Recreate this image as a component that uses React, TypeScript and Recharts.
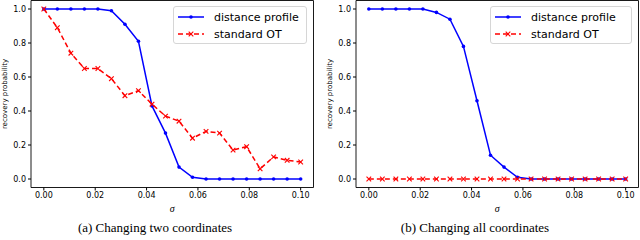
import React from 'react';
import { LineChart, Line, XAxis, YAxis, ReferenceArea } from 'recharts';

// sigma grid (20 points between 0 and 0.1)
const sigma = [
  0, 0.00526, 0.01053, 0.01579, 0.02105, 0.02632, 0.03158, 0.03684, 0.04211, 0.04737,
  0.05263, 0.05789, 0.06316, 0.06842, 0.07368, 0.07895, 0.08421, 0.08947, 0.09474, 0.1,
];

// (a) changing two coordinates
const distTwo = [1, 1, 1, 1, 1, 0.99, 0.91, 0.81, 0.43, 0.27, 0.07, 0.01, 0, 0, 0, 0, 0, 0, 0, 0];
const otTwo = [1, 0.89, 0.74, 0.65, 0.65, 0.59, 0.49, 0.52, 0.44, 0.37, 0.34, 0.24, 0.28, 0.27, 0.17, 0.19, 0.06, 0.13, 0.11, 0.1];

// (b) changing all coordinates
const distAll = [1, 1, 1, 1, 1, 0.98, 0.94, 0.78, 0.46, 0.14, 0.07, 0.01, 0, 0, 0, 0, 0, 0, 0, 0];
const otAll = [0, 0, 0, 0, 0, 0, 0, 0, 0, 0, 0, 0, 0, 0, 0, 0, 0, 0, 0, 0];

const xTicks = [0, 0.02, 0.04, 0.06, 0.08, 0.1];
const yTicks = [0, 0.2, 0.4, 0.6, 0.8, 1.0];
const seriesNames = ['distance profile', 'standard OT'];

const FONT = 'DejaVu Sans, sans-serif';
const tickStyle = { fontSize: 8, fill: '#000', fontFamily: FONT };

const XMark = (props: any) => {
  const { cx, cy } = props;
  if (cx == null || cy == null) return null;
  const r = 2.3;
  return (
    <g>
      <line x1={cx - r} y1={cy - r} x2={cx + r} y2={cy + r} stroke="#ff0000" strokeWidth={1.1} />
      <line x1={cx - r} y1={cy + r} x2={cx + r} y2={cy - r} stroke="#ff0000" strokeWidth={1.1} />
    </g>
  );
};

const LegendBox = ({ left, width }: { left: number; width: number }) => (
  <div
    style={{
      position: 'absolute', left, top: 6, width, height: 38, boxSizing: 'border-box',
      border: '1px solid #d6d6d6', borderRadius: 3, background: 'rgba(255,255,255,0.85)',
      fontFamily: FONT, fontSize: 11, color: '#000',
    }}
  >
    {seriesNames.map((name, i) => (
      <div key={name} style={{ position: 'absolute', left: 3, top: 3 + i * 17, height: 14, display: 'flex', alignItems: 'center' }}>
        <svg width={28} height={14} style={{ marginRight: 9 }}>
          <line x1={1} y1={7} x2={27} y2={7} stroke={i === 0 ? '#0000ff' : '#ff0000'} strokeWidth={1.5} strokeDasharray={i === 0 ? undefined : '5 3'} />
          {i === 0 ? <circle cx={14} cy={7} r={1.8} fill="#0000ff" /> : <XMark cx={14} cy={7} />}
        </svg>
        <span>{name}</span>
      </div>
    ))}
  </div>
);

type PanelProps = {
  dist: number[];
  ot: number[];
  yAxisWidth: number;
  marginRight: number;
  yLabelX: number;
  legendLeft: number;
  legendWidth: number;
  caption: string;
  left: number;
};

const Panel = ({ dist, ot, yAxisWidth, marginRight, yLabelX, legendLeft, legendWidth, caption, left }: PanelProps) => {
  const data = sigma.map((s, i) => ({ sigma: s, dist: dist[i], ot: ot[i] }));
  return (
    <div style={{ position: 'absolute', left, top: 0, width: 320, height: 240 }}>
      <LineChart width={320} height={240} data={data} margin={{ top: 0.5, right: marginRight, left: 0, bottom: 0 }}>
        <XAxis
          dataKey="sigma"
          type="number"
          domain={[-0.005, 0.105]}
          ticks={xTicks}
          tickFormatter={(v: number) => v.toFixed(2)}
          tick={tickStyle}
          tickSize={3}
          tickLine={{ stroke: '#000' }}
          axisLine={false}
          height={52.5}
          label={(p: any) => {
            const vb = p.viewBox;
            return (
              <text x={vb.x + vb.width / 2} y={vb.y + 24} textAnchor="middle" fontSize={10} fontStyle="italic" fontFamily="Liberation Serif, serif">σ</text>
            );
          }}
        />
        <YAxis
          type="number"
          domain={[-0.05, 1.05]}
          ticks={yTicks}
          tickFormatter={(v: number) => v.toFixed(1)}
          tick={tickStyle}
          tickSize={3}
          tickLine={{ stroke: '#000' }}
          axisLine={false}
          width={yAxisWidth}
          label={(p: any) => {
            const vb = p.viewBox;
            const cy = vb.y + vb.height / 2;
            return (
              <text x={yLabelX} y={cy} transform={`rotate(-90 ${yLabelX} ${cy})`} textAnchor="middle" dominantBaseline="central" fontSize={7} fontFamily={FONT}>recovery probability</text>
            );
          }}
        />
        <ReferenceArea x1={-0.005} x2={0.105} y1={-0.05} y2={1.05} fill="none" stroke="#000" strokeWidth={0.9} ifOverflow="visible" />
        <Line dataKey="dist" stroke="#0000ff" strokeWidth={1.5} dot={{ r: 1.8, fill: '#0000ff', stroke: '#0000ff', strokeWidth: 0 }} isAnimationActive={false} />
        <Line dataKey="ot" stroke="#ff0000" strokeWidth={1.5} strokeDasharray="5 3" dot={(p: any) => <XMark key={p.index} cx={p.cx} cy={p.cy} />} isAnimationActive={false} />
      </LineChart>
      <LegendBox left={legendLeft} width={legendWidth} />
      <div style={{ position: 'absolute', left: 0, width: 310, top: 220, textAlign: 'center', fontFamily: 'Liberation Serif, serif', fontSize: 13 }}>
        {caption}
      </div>
    </div>
  );
};

export default function App() {
  return (
    <div style={{ position: 'absolute', left: 0, top: 0, width: 640, height: 240, background: '#fff' }}>
      <Panel dist={distTwo} ot={otTwo} yAxisWidth={31} marginRight={6.5} yLabelX={5} legendLeft={173} legendWidth={134} caption="(a) Changing two coordinates" left={0} />
      <Panel dist={distAll} ot={otAll} yAxisWidth={36} marginRight={1.5} yLabelX={10} legendLeft={170} legendWidth={142} caption="(b) Changing all coordinates" left={320} />
    </div>
  );
}
